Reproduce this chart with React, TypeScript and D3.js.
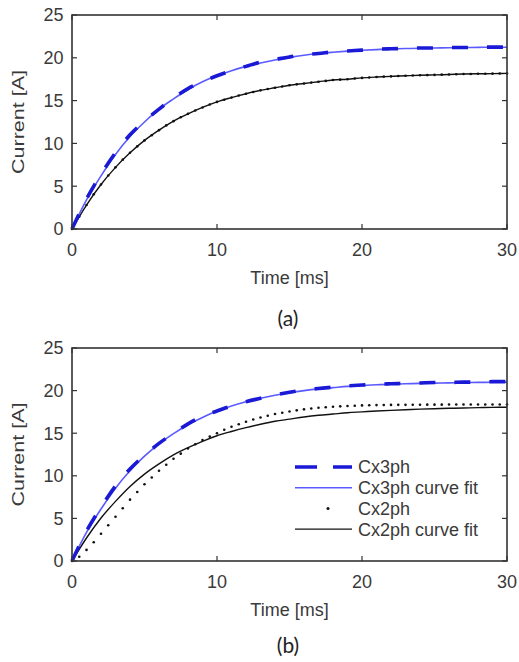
import React from "react";
import * as d3 from "d3";

// ---------- data ----------
const TIME_FIT = [0,1,2,3,4,5,6,7,8,9,10,11,12,13,14,15,16,17,18,19,20,21,22,23,24,25,26,27,28,29,30];
const TIME_DOT = [0,0.5,1,1.5,2,2.5,3,3.5,4,4.5,5,5.5,6,6.5,7,7.5,8,8.5,9,9.5,10,10.5,11,11.5,12,12.5,13,13.5,14,14.5,15,15.5,16,16.5,17,17.5,18,18.5,19,19.5,20,20.5,21,21.5,22,22.5,23,23.5,24,24.5,25,25.5,26,26.5,27,27.5,28,28.5,29,29.5,30];

// Panel (a)
const A_CX3PH = [0,3.5,6.4,8.9,11.0,12.6,14.0,15.3,16.4,17.2,17.9,18.5,19.0,19.5,19.8,20.1,20.35,20.5,20.7,20.8,20.9,21.0,21.05,21.1,21.15,21.15,21.2,21.2,21.25,21.25,21.25];
const A_CX3PH_FIT = [0,3.4,6.2,8.7,10.8,12.5,14.0,15.2,16.3,17.2,17.9,18.5,19.0,19.4,19.75,20.05,20.3,20.5,20.65,20.78,20.88,20.96,21.03,21.08,21.12,21.15,21.18,21.2,21.22,21.23,21.24];
const A_CX2PH = [0,1.45,2.8,4.05,5.2,6.25,7.2,8.1,8.9,9.65,10.35,10.95,11.55,12.1,12.6,13.05,13.45,13.85,14.2,14.55,14.85,15.1,15.35,15.6,15.8,16.0,16.2,16.35,16.5,16.65,16.8,16.9,17.0,17.1,17.2,17.3,17.4,17.45,17.5,17.58,17.65,17.7,17.75,17.8,17.83,17.87,17.9,17.93,17.96,17.98,18.0,18.03,18.05,18.07,18.1,18.11,18.13,18.14,18.15,18.17,18.18];
const A_CX2PH_FIT = [0,2.8,5.2,7.2,8.9,10.35,11.55,12.6,13.45,14.2,14.85,15.35,15.8,16.2,16.5,16.8,17.0,17.2,17.4,17.5,17.65,17.75,17.83,17.9,17.96,18.0,18.05,18.1,18.13,18.15,18.18];

// Panel (b)
const B_CX3PH = [0,3.5,6.3,8.8,10.8,12.4,13.8,15.0,16.1,17.0,17.6,18.2,18.7,19.1,19.5,19.8,20.05,20.25,20.4,20.55,20.65,20.75,20.8,20.85,20.9,20.95,20.95,21.0,21.0,21.05,21.05];
const B_CX3PH_FIT = [0,3.35,6.1,8.55,10.6,12.3,13.75,14.95,16.0,16.85,17.6,18.2,18.7,19.1,19.45,19.75,20.0,20.2,20.35,20.5,20.6,20.68,20.75,20.8,20.85,20.88,20.91,20.94,20.96,20.98,21.0];
const B_CX2PH = [0,0.5,1.3,2.2,3.2,4.2,5.2,6.2,7.2,8.1,9.0,9.8,10.6,11.3,12.0,12.6,13.2,13.7,14.2,14.6,15.0,15.4,15.75,16.05,16.35,16.6,16.85,17.05,17.25,17.4,17.55,17.68,17.8,17.9,17.98,18.05,18.1,18.15,18.2,18.23,18.26,18.28,18.3,18.31,18.32,18.33,18.33,18.34,18.34,18.35,18.35,18.35,18.36,18.36,18.36,18.36,18.37,18.37,18.37,18.37,18.37];
const B_CX2PH_FIT = [0,2.7,5.05,7.0,8.75,10.2,11.4,12.45,13.3,14.05,14.7,15.2,15.65,16.05,16.4,16.65,16.9,17.1,17.25,17.4,17.5,17.6,17.68,17.75,17.82,17.87,17.92,17.96,18.0,18.03,18.05];

const X_TICKS = [0, 10, 20, 30];
const Y_TICKS = [0, 5, 10, 15, 20, 25];
const LEGEND_LABELS = ["Cx3ph", "Cx3ph curve fit", "Cx2ph", "Cx2ph curve fit"];

const BLUE_DASH = "#1a1ad6";
const BLUE_FIT = "#5a5aff";
const BLACK = "#111";
const AXIS = "#333";
const FONT = "'Liberation Sans', Arial, sans-serif";

type PanelProps = {
  top: number;
  bottom: number;
  caption: string;
  captionY: number;
  cx3: number[];
  cx3fit: number[];
  cx2: number[];
  cx2fit: number[];
  legend: boolean;
};

function Panel(p: PanelProps) {
  const left = 72, right = 507;
  const x = d3.scaleLinear().domain([0, 30]).range([left, right]);
  const y = d3.scaleLinear().domain([0, 25]).range([p.bottom, p.top]);
  const line = d3.line<[number, number]>().x(d => x(d[0])).y(d => y(d[1])).curve(d3.curveMonotoneX);
  const fitPts = (v: number[]) => TIME_FIT.map((t, i) => [t, v[i]] as [number, number]);
  const tick = 5;
  const midY = (p.top + p.bottom) / 2;
  const midX = (left + right) / 2;
  return (
    <g>
      <defs>
        <clipPath id={"clip" + p.caption}>
          <rect x={left} y={p.top} width={right - left} height={p.bottom - p.top} />
        </clipPath>
      </defs>
      <g clipPath={`url(#clip${p.caption})`}>
        <path d={line(fitPts(p.cx2fit)) || ""} fill="none" stroke={BLACK} strokeWidth={1.4} />
        {TIME_DOT.map((t, i) => (
          <circle key={i} cx={x(t)} cy={y(p.cx2[i])} r={1.3} fill={BLACK} />
        ))}
        <path d={line(fitPts(p.cx3fit)) || ""} fill="none" stroke={BLUE_FIT} strokeWidth={1.6} />
        <path d={line(fitPts(p.cx3)) || ""} fill="none" stroke={BLUE_DASH} strokeWidth={3.6} strokeDasharray="16,19" />
      </g>
      {Y_TICKS.map(v => (
        <g key={"y" + v}>
          <line x1={left} x2={left + tick} y1={y(v)} y2={y(v)} stroke={AXIS} strokeWidth={1.2} />
          <line x1={right} x2={right - tick} y1={y(v)} y2={y(v)} stroke={AXIS} strokeWidth={1.2} />
          <text x={63.5} y={y(v)} dy="0.36em" textAnchor="end" fontSize={18} fill="#3a3a3a" fontFamily={FONT}>{v}</text>
        </g>
      ))}
      {X_TICKS.map(v => (
        <g key={"x" + v}>
          <line x1={x(v)} x2={x(v)} y1={p.bottom} y2={p.bottom - tick} stroke={AXIS} strokeWidth={1.2} />
          <line x1={x(v)} x2={x(v)} y1={p.top} y2={p.top + tick} stroke={AXIS} strokeWidth={1.2} />
          <text x={x(v)} y={p.bottom + 21} dy="0.36em" textAnchor="middle" fontSize={18} fill="#3a3a3a" fontFamily={FONT}>{v}</text>
        </g>
      ))}
      <rect x={left} y={p.top} width={right - left} height={p.bottom - p.top} fill="none" stroke={AXIS} strokeWidth={1.6} />
      <text x={midX} y={p.bottom + 49} dy="0.36em" textAnchor="middle" fontSize={18} fill="#3a3a3a" fontFamily={FONT}>Time [ms]</text>
      <text transform={`translate(18.5,${midY}) rotate(-90)`} dy="0.36em" textAnchor="middle" fontSize={16} fill="#3a3a3a" fontFamily={FONT} textLength={104} lengthAdjust="spacingAndGlyphs">Current [A]</text>
      <text x={288} y={p.captionY} dy="0.36em" textAnchor="middle" fontSize={21} fill="#222" fontFamily="Lato, 'Open Sans', sans-serif">{p.caption}</text>
      {p.legend && (
        <g fontFamily={FONT} fontSize={18} fill="#3a3a3a">
          {LEGEND_LABELS.map((lab, i) => {
            const ly = 467 + i * 20.7;
            return (
              <g key={lab}>
                {i === 0 && <line x1={295} x2={352} y1={ly} y2={ly} stroke={BLUE_DASH} strokeWidth={3.6} strokeDasharray="22,16" />}
                {i === 1 && <line x1={295} x2={352} y1={ly} y2={ly} stroke={BLUE_FIT} strokeWidth={1.6} />}
                {i === 2 && <circle cx={328} cy={ly} r={1.5} fill={BLACK} />}
                {i === 3 && <line x1={295} x2={352} y1={ly} y2={ly} stroke={BLACK} strokeWidth={1.4} />}
                <text x={358} y={ly} dy="0.36em">{lab}</text>
              </g>
            );
          })}
        </g>
      )}
    </g>
  );
}

export default function App() {
  return (
    <svg width={519} height={662} style={{ position: "absolute", left: 0, top: 0, background: "#fff" }}>
      <rect x={0} y={0} width={519} height={662} fill="#fff" />
      <Panel top={15} bottom={229} caption="(a)" captionY={318} cx3={A_CX3PH} cx3fit={A_CX3PH_FIT} cx2={A_CX2PH} cx2fit={A_CX2PH_FIT} legend={false} />
      <Panel top={348} bottom={561} caption="(b)" captionY={645} cx3={B_CX3PH} cx3fit={B_CX3PH_FIT} cx2={B_CX2PH} cx2fit={B_CX2PH_FIT} legend={true} />
    </svg>
  );
}
